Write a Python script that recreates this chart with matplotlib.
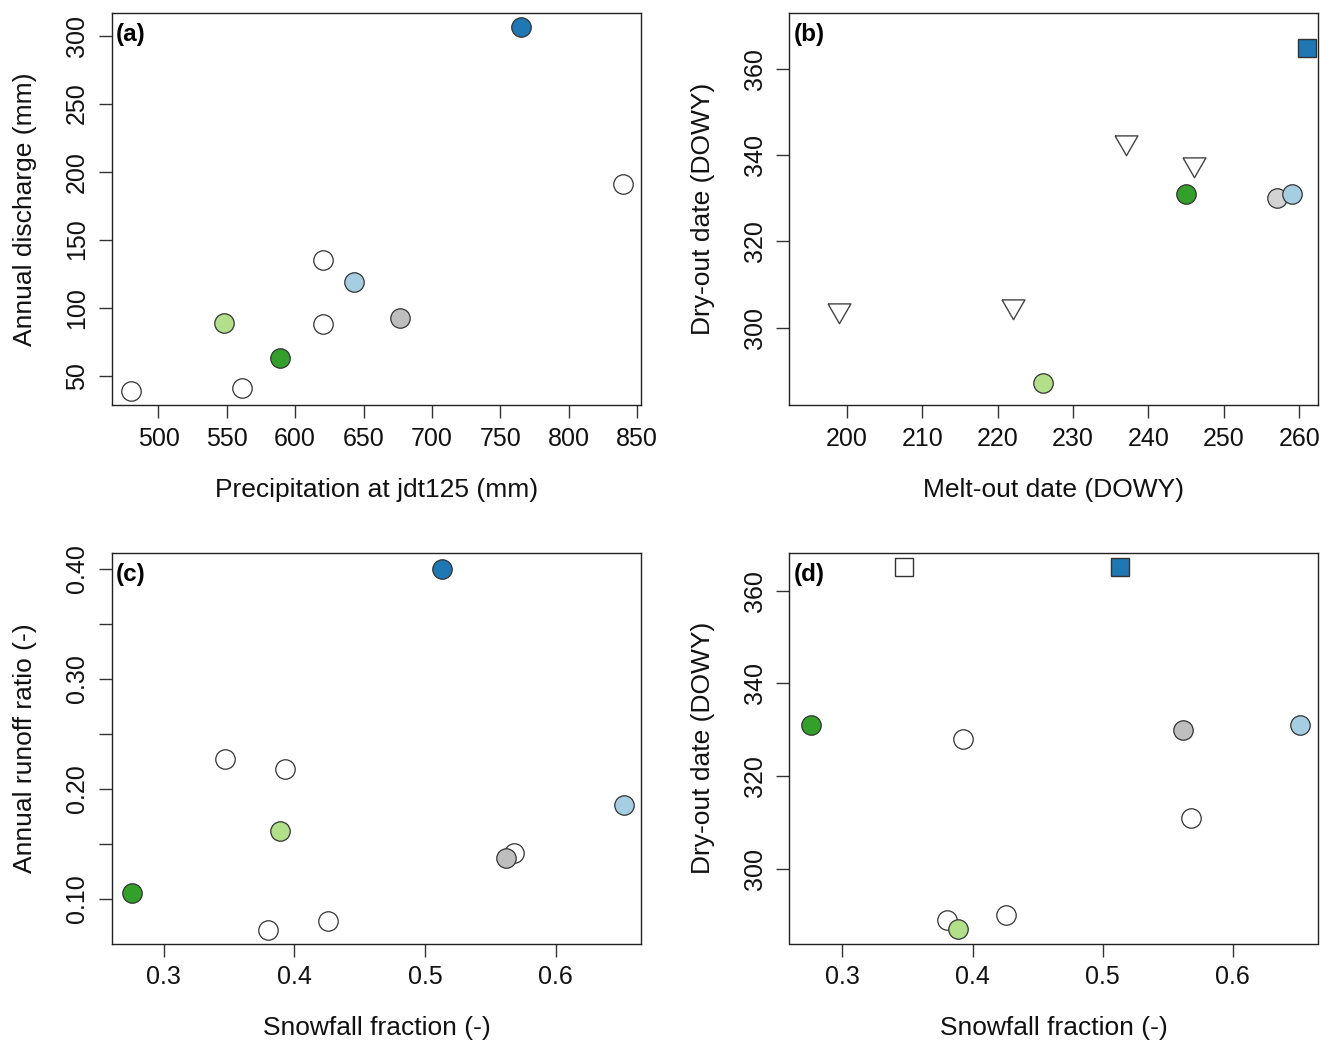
# Four-panel scatter: discharge, runoff ratio and dry-out dates
import matplotlib
matplotlib.use("Agg")
import matplotlib.pyplot as plt

plt.rcParams['font.family'] = ['Liberation Sans', 'DejaVu Sans']

# site colours (filled sites), white for the rest
colours = ["#1f78b4", "#a6cee3", "#bebebe", "#b2df8a", "#33a02c"]

# (a) precipitation vs annual discharge
precip = [765, 643, 677, 548, 589]
discharge = [306, 119, 92.6, 88.7, 62.7]
precip_white = [840, 620, 620, 561, 480]
discharge_white = [190.7, 135, 87.7, 40.7, 38.7]

# (b) melt-out vs dry-out
melt_sq = [261]
dry_sq = [365]
melt_tri = [199, 222, 237, 246]
dry_tri = [304, 305, 343, 338]
melt_circ = [245, 257, 259, 226]
dry_circ = [331, 330, 331, 287]
colours_b = ["#33a02c", "#d3d3d3", "#a6cee3", "#b2df8a"]

# (c) snowfall fraction vs runoff ratio
snowfrac = [0.513, 0.652, 0.562, 0.389, 0.276]
runoff = [0.400, 0.185, 0.137, 0.162, 0.105]
snowfrac_white = [0.347, 0.393, 0.568, 0.380, 0.426]
runoff_white = [0.227, 0.218, 0.1415, 0.072, 0.080]

# (d) snowfall fraction vs dry-out date
dryout = [365, 331, 330, 287, 331]
dryout_white = [365, 328, 311, 289, 290]

W, H = 1322, 1046
fig = plt.figure(figsize=(W / 100, H / 100), dpi=100)

def box(l, r, t, b):
    return [l / W, 1 - b / H, (r - l) / W, (b - t) / H]

ax_a = fig.add_axes(box(112, 641, 13.3, 405))
ax_b = fig.add_axes(box(789.5, 1318, 13.3, 405))
ax_c = fig.add_axes(box(112, 641, 553.2, 943.5))
ax_d = fig.add_axes(box(789.5, 1318, 553.2, 943.5))

# R style downward triangle, centred on its centroid
tri = [(-0.866, 0.5), (0.866, 0.5), (0.0, -1.0), (-0.866, 0.5)]

def circles(ax, x, y, cols):
    for xi, yi, c in zip(x, y, cols):
        ax.plot(xi, yi, 'o', ms=14, mfc=c, mec='#333333', mew=0.9)

def squares(ax, x, y, cols):
    for xi, yi, c in zip(x, y, cols):
        ax.plot(xi, yi, 's', ms=12.5, mfc=c, mec='#333333', mew=1.0)

def style(ax, tag, xlabel, ylabel):
    for s in ax.spines.values():
        s.set_linewidth(1.0)
        s.set_color('#222222')
    ax.tick_params(axis='both', length=9.5, width=1.0, color='#333333',
                   labelsize=18, labelcolor='#111111')
    ax.tick_params(axis='x', pad=6)
    ax.tick_params(axis='y', pad=7)
    for lab in ax.get_yticklabels():
        lab.set_rotation(90)
        lab.set_va('center')
    ax.set_xlabel(xlabel, fontsize=19, va='baseline', color='#111111')
    ax.xaxis.set_label_coords(0.5, -92 / 391.0)
    ax.set_ylabel(ylabel, fontsize=19, va='center', color='#111111')
    ax.yaxis.set_label_coords(-87 / 529.0, 0.5)
    ax.text(0.008, 0.975, tag, transform=ax.transAxes, ha='left', va='top',
            fontsize=17.5, fontweight='bold')

# (a)
circles(ax_a, precip_white, discharge_white, ["white"] * 5)
circles(ax_a, precip, discharge, colours)
ax_a.set_xlim(466, 853)
ax_a.set_ylim(28.4, 316.4)
ax_a.set_xticks(range(500, 851, 50))
ax_a.set_yticks(range(50, 301, 50))
style(ax_a, "(a)", "Precipitation at jdt125 (mm)", "Annual discharge (mm)")

# (b)
ax_b.plot(melt_tri, dry_tri, ls='none', marker=tri, ms=19, mfc='white',
          mec='#444444', mew=1.0)
circles(ax_b, melt_circ, dry_circ, colours_b)
squares(ax_b, melt_sq, dry_sq, [colours[0]])
ax_b.set_xlim(192.4, 262.5)
ax_b.set_ylim(282.0, 373.0)
ax_b.set_xticks(range(200, 261, 10))
ax_b.set_yticks(range(300, 361, 20))
style(ax_b, "(b)", "Melt-out date (DOWY)", "Dry-out date (DOWY)")

# (c)
circles(ax_c, snowfrac_white, runoff_white, ["white"] * 5)
circles(ax_c, snowfrac, runoff, colours)
ax_c.set_xlim(0.2605, 0.6653)
ax_c.set_ylim(0.0594, 0.4141)
ax_c.set_xticks([0.3, 0.4, 0.5, 0.6])
ax_c.set_xticklabels(["0.3", "0.4", "0.5", "0.6"])
ax_c.set_yticks([0.10, 0.15, 0.20, 0.25, 0.30, 0.35, 0.40])
ax_c.set_yticklabels(["0.10", "", "0.20", "", "0.30", "", "0.40"])
style(ax_c, "(c)", "Snowfall fraction (-)", "Annual runoff ratio (-)")

# (d) sites that never dried out are squares at 365
sq_x = [x for x, y in zip(snowfrac_white, dryout_white) if y >= 365]
circ_x = [x for x, y in zip(snowfrac_white, dryout_white) if y < 365]
circ_y = [y for y in dryout_white if y < 365]
circles(ax_d, circ_x, circ_y, ["white"] * len(circ_x))
squares(ax_d, sq_x, [365] * len(sq_x), ["white"] * len(sq_x))
for x, y, c in zip(snowfrac, dryout, colours):
    if y >= 365:
        squares(ax_d, [x], [y], [c])
    else:
        circles(ax_d, [x], [y], [c])
ax_d.set_xlim(0.2593, 0.6655)
ax_d.set_ylim(283.96, 368.05)
ax_d.set_xticks([0.3, 0.4, 0.5, 0.6])
ax_d.set_xticklabels(["0.3", "0.4", "0.5", "0.6"])
ax_d.set_yticks(range(300, 361, 20))
style(ax_d, "(d)", "Snowfall fraction (-)", "Dry-out date (DOWY)")

fig.savefig("out.png", dpi=100)
